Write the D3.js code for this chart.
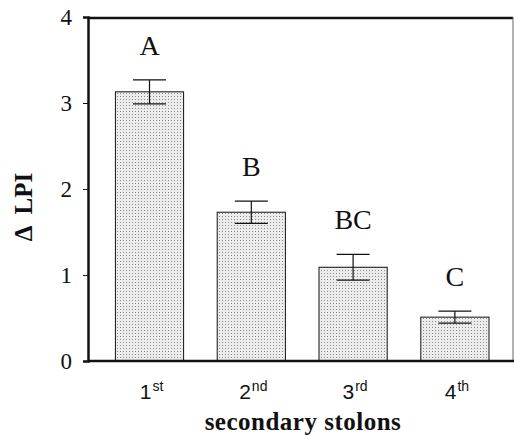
<!DOCTYPE html>
<html>
<head>
<meta charset="utf-8">
<script src="https://cdn.jsdelivr.net/npm/d3@7"></script>
<style>
  body { margin: 0; background: #fff; }
  svg { display: block; }
</style>
</head>
<body>
<div id="chart"></div>
<script>
// data
var categories = ["1", "2", "3", "4"];
var suffixes = ["st", "nd", "rd", "th"];
var values = [3.13, 1.73, 1.09, 0.51];
var errors = [0.14, 0.13, 0.15, 0.07];
var letters = ["A", "B", "BC", "C"];
var yTicks = [0, 1, 2, 3, 4];

var W = 514, H = 435;
var plotLeft = 88, plotRight = 513, plotTop = 17, plotBottom = 361;

var svg = d3.select("#chart").append("svg")
  .attr("width", W)
  .attr("height", H);

// stipple pattern for bars
var defs = svg.append("defs");
var pat = defs.append("pattern")
  .attr("id", "stipple")
  .attr("patternUnits", "userSpaceOnUse")
  .attr("width", 3)
  .attr("height", 3);
pat.append("rect").attr("width", 3).attr("height", 3).attr("fill", "#ececec");
pat.append("rect").attr("width", 1).attr("height", 1).attr("fill", "#8a8a8a");

var x = d3.scaleBand()
  .domain(categories)
  .range([98.6, 505.8])
  .paddingInner(0.33)
  .paddingOuter(0.165);

var y = d3.scaleLinear().domain([0, 4]).range([plotBottom, plotTop]);

// bars
svg.selectAll(".bar")
  .data(values)
  .enter()
  .append("rect")
  .attr("class", "bar")
  .attr("x", function(d, i) { return x(categories[i]); })
  .attr("width", x.bandwidth())
  .attr("y", function(d) { return y(d); })
  .attr("height", function(d) { return plotBottom - y(d); })
  .attr("fill", "url(#stipple)")
  .attr("stroke", "#111")
  .attr("stroke-width", 1);

// error bars
var capW = 33;
function cx(i) { return x(categories[i]) + x.bandwidth() / 2; }
var eb = svg.selectAll(".err")
  .data(values)
  .enter()
  .append("g")
  .attr("class", "err")
  .attr("stroke", "#111")
  .attr("stroke-width", 1.2);
eb.append("line")
  .attr("x1", function(d, i) { return cx(i); })
  .attr("x2", function(d, i) { return cx(i); })
  .attr("y1", function(d, i) { return y(d + errors[i]); })
  .attr("y2", function(d, i) { return y(d - errors[i]); });
eb.append("line")
  .attr("x1", function(d, i) { return cx(i) - capW / 2; })
  .attr("x2", function(d, i) { return cx(i) + capW / 2; })
  .attr("y1", function(d, i) { return y(d + errors[i]); })
  .attr("y2", function(d, i) { return y(d + errors[i]); });
eb.append("line")
  .attr("x1", function(d, i) { return cx(i) - capW / 2; })
  .attr("x2", function(d, i) { return cx(i) + capW / 2; })
  .attr("y1", function(d, i) { return y(d - errors[i]); })
  .attr("y2", function(d, i) { return y(d - errors[i]); });

// significance letters
svg.selectAll(".letter")
  .data(letters)
  .enter()
  .append("text")
  .attr("class", "letter")
  .attr("x", function(d, i) { return cx(i); })
  .attr("y", function(d, i) { return y(values[i] + errors[i]) - 25; })
  .attr("text-anchor", "middle")
  .style("font-family", "'Liberation Serif', 'Times New Roman', serif")
  .style("font-size", "28px")
  .attr("fill", "#111")
  .text(function(d) { return d; });

// frame: top and right
svg.append("line")
  .attr("x1", plotLeft).attr("x2", plotRight)
  .attr("y1", plotTop + 1).attr("y2", plotTop + 1)
  .attr("stroke", "#111").attr("stroke-width", 2.5);
svg.append("line")
  .attr("x1", plotRight).attr("x2", plotRight)
  .attr("y1", plotTop).attr("y2", plotBottom)
  .attr("stroke", "#666").attr("stroke-width", 1);

// y axis
var yAxis = svg.append("g")
  .attr("transform", "translate(" + plotLeft + ",0)")
  .call(d3.axisLeft(y).tickValues(yTicks).tickSize(5).tickPadding(11).tickFormat(d3.format("d")));
yAxis.select(".domain").attr("stroke-width", 2.5).attr("stroke", "#111");
yAxis.selectAll(".tick line").attr("stroke", "#111");
yAxis.selectAll(".tick text")
  .style("font-family", "'Liberation Serif', 'Times New Roman', serif")
  .style("font-size", "23px")
  .attr("fill", "#111");

// bottom axis line
svg.append("line")
  .attr("x1", plotLeft).attr("x2", W)
  .attr("y1", plotBottom).attr("y2", plotBottom)
  .attr("stroke", "#111").attr("stroke-width", 2.5);

// x category labels with superscripts
var xl = svg.selectAll(".xlab")
  .data(categories)
  .enter()
  .append("text")
  .attr("class", "xlab")
  .attr("x", function(d, i) { return cx(i) + 2; })
  .attr("y", 399)
  .attr("text-anchor", "middle")
  .style("font-family", "'Liberation Sans', Arial, sans-serif")
  .style("font-size", "21px")
  .attr("fill", "#111");
xl.append("tspan").text(function(d) { return d; });
xl.append("tspan")
  .attr("dx", 1)
  .attr("dy", -8)
  .style("font-size", "14px")
  .text(function(d, i) { return suffixes[i]; });

// axis titles
svg.append("text")
  .attr("x", 303)
  .attr("y", 430)
  .attr("text-anchor", "middle")
  .style("font-family", "'Liberation Serif', 'Times New Roman', serif")
  .style("font-weight", "bold")
  .style("font-size", "25px")
  .style("letter-spacing", "0.5px")
  .attr("fill", "#111")
  .text("secondary stolons");

svg.append("text")
  .attr("transform", "translate(32,207) rotate(-90)")
  .attr("text-anchor", "middle")
  .style("font-family", "'Liberation Serif', 'Times New Roman', serif")
  .style("font-weight", "bold")
  .style("font-size", "25px")
  .style("white-space", "pre")
  .attr("fill", "#111")
  .text("\u0394  LPI");
</script>
</body>
</html>
